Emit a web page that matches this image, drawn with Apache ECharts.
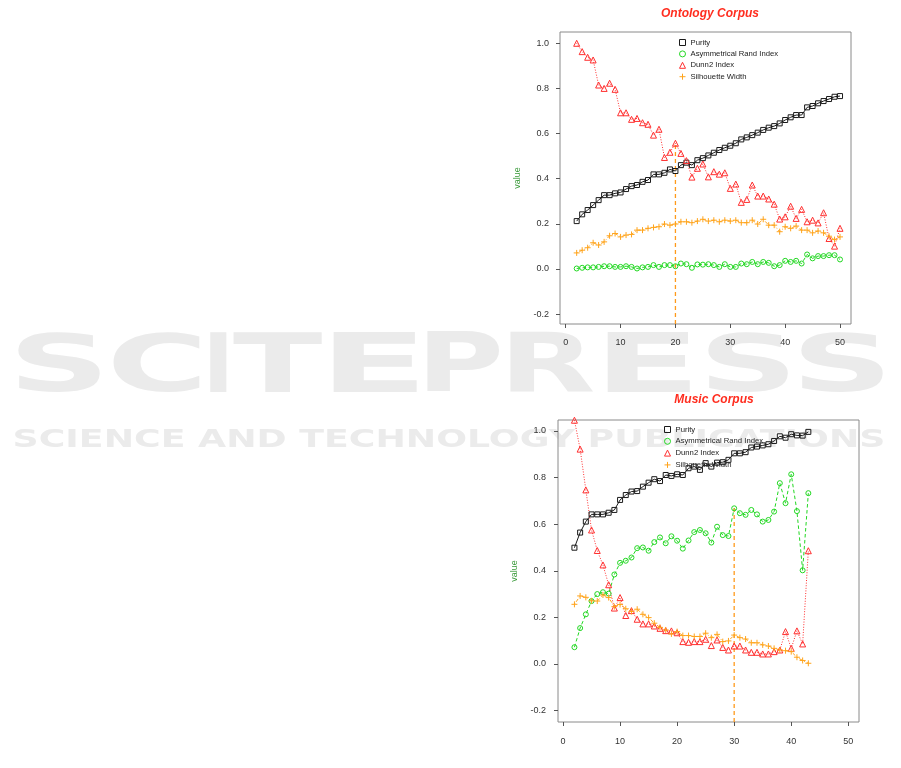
<!DOCTYPE html>
<html><head><meta charset="utf-8">
<script src="https://cdn.jsdelivr.net/npm/echarts@6/dist/echarts.min.js"></script>
<style>html,body{margin:0;padding:0;background:#fff}#c{width:901px;height:768px}</style>
</head><body><div id="c"></div>
<script>
// ---------------- data ----------------
const seriesNames = ['Purity', 'Asymmetrical Rand Index', 'Dunn2 Index', 'Silhouette Width'];
const chartTitles = ['Ontology Corpus', 'Music Corpus'];
const yAxisName = 'value';
const xTickValues = [0, 10, 20, 30, 40, 50];
const yTickValues = [-0.2, 0.0, 0.2, 0.4, 0.6, 0.8, 1.0];

const ontologyK = [2,3,4,5,6,7,8,9,10,11,12,13,14,15,16,17,18,19,20,21,22,23,24,25,26,27,28,29,30,31,32,33,34,35,36,37,38,39,40,41,42,43,44,45,46,47,48,49,50];
const ontologyPurity = [0.212,0.242,0.261,0.283,0.305,0.327,0.327,0.335,0.339,0.354,0.367,0.372,0.386,0.394,0.419,0.419,0.426,0.441,0.434,0.460,0.471,0.460,0.482,0.491,0.503,0.515,0.527,0.537,0.546,0.557,0.574,0.583,0.593,0.604,0.616,0.626,0.633,0.645,0.660,0.672,0.682,0.682,0.716,0.722,0.734,0.744,0.753,0.763,0.766];
const ontologyARI = [0.002,0.005,0.007,0.007,0.009,0.012,0.012,0.009,0.009,0.012,0.009,0.002,0.007,0.009,0.017,0.009,0.017,0.017,0.012,0.024,0.021,0.005,0.020,0.019,0.021,0.017,0.009,0.021,0.009,0.009,0.024,0.021,0.031,0.021,0.031,0.027,0.012,0.017,0.036,0.031,0.036,0.024,0.064,0.047,0.057,0.057,0.061,0.061,0.042];
const ontologyDunn2 = [1.0,0.963,0.938,0.926,0.815,0.80,0.823,0.796,0.692,0.692,0.663,0.667,0.648,0.641,0.593,0.619,0.494,0.517,0.557,0.512,0.480,0.407,0.446,0.465,0.408,0.431,0.420,0.426,0.357,0.376,0.295,0.308,0.372,0.323,0.323,0.31,0.287,0.221,0.231,0.278,0.224,0.264,0.209,0.216,0.204,0.249,0.135,0.101,0.180];
const ontologySilhouette = [0.071,0.083,0.094,0.116,0.106,0.120,0.147,0.157,0.142,0.150,0.153,0.172,0.172,0.180,0.184,0.187,0.199,0.194,0.199,0.209,0.209,0.205,0.212,0.220,0.212,0.216,0.209,0.216,0.212,0.216,0.205,0.205,0.216,0.199,0.220,0.194,0.194,0.165,0.187,0.180,0.190,0.172,0.172,0.160,0.168,0.160,0.145,0.130,0.142];
const ontologyMarkK = 20;
const ontologyMarkTop = 0.549;

const musicK = [2,3,4,5,6,7,8,9,10,11,12,13,14,15,16,17,18,19,20,21,22,23,24,25,26,27,28,29,30,31,32,33,34,35,36,37,38,39,40,41,42,43];
const musicPurity = [0.499,0.564,0.611,0.642,0.642,0.642,0.649,0.661,0.704,0.725,0.740,0.742,0.761,0.778,0.793,0.785,0.811,0.807,0.814,0.811,0.840,0.847,0.833,0.862,0.847,0.864,0.866,0.876,0.904,0.904,0.909,0.929,0.933,0.938,0.943,0.957,0.977,0.971,0.986,0.981,0.980,0.996];
const musicARI = [0.072,0.154,0.213,0.270,0.300,0.308,0.302,0.384,0.434,0.443,0.457,0.497,0.500,0.486,0.523,0.543,0.518,0.548,0.529,0.495,0.530,0.566,0.575,0.561,0.521,0.589,0.553,0.549,0.668,0.647,0.640,0.661,0.642,0.611,0.618,0.654,0.776,0.690,0.814,0.656,0.402,0.733];
const musicDunn2 = [1.046,0.922,0.747,0.575,0.487,0.425,0.340,0.240,0.285,0.208,0.229,0.192,0.172,0.172,0.163,0.153,0.143,0.142,0.134,0.096,0.093,0.096,0.096,0.106,0.079,0.103,0.071,0.060,0.077,0.077,0.060,0.050,0.050,0.043,0.043,0.053,0.060,0.139,0.067,0.142,0.086,0.486];
const musicSilhouette = [0.256,0.292,0.286,0.271,0.270,0.296,0.285,0.246,0.255,0.237,0.225,0.235,0.213,0.199,0.175,0.157,0.146,0.129,0.139,0.122,0.122,0.118,0.118,0.132,0.113,0.127,0.096,0.099,0.124,0.113,0.107,0.091,0.091,0.082,0.077,0.067,0.060,0.057,0.053,0.029,0.015,0.003];
const musicMarkK = 30;
const musicMarkTop = 0.668;

const watermarkBig = 'SCITEPRESS';
const watermarkSmall = 'SCIENCE AND TECHNOLOGY PUBLICATIONS';

// ---------------- styles / layout ----------------
const FAMILY = 'Liberation Sans';
const WM_FAMILY = 'DejaVu Sans';
const WM_COLOR = '#ebebeb';
const colors = ['#1a1a1a', '#22d822', '#ff2f2f', '#ffa41c'];
const symbols = ['rect', 'circle', 'triangle', 'path://M5,0L5,10M0,5L10,5'];
const symbolSizes = [5, 5, 6, 6];
const dashes = ['solid', [3.5, 2.5], [1, 1.6], [1, 2, 3.5, 2]];

// ink boxes (px) of the watermark letters
const wmLetterBoxes = [[17,100],[112,200],[210,227],[233,323],[333,417],[427,500],[510,593],[607,690],[707,788],[800,883]];
const wmBigTop = 332, wmBigBottom = 392;
const wmSmallBox = [14, 883, 428, 447];

const panels = [
  { grid: { left: 560, top: 32, width: 291, height: 292 }, xMin: -1.04, xMax: 52.0, yMin: -0.244, yMax: 1.05,
    k: ontologyK, vals: [ontologyPurity, ontologyARI, ontologyDunn2, ontologySilhouette],
    markK: ontologyMarkK, markTop: ontologyMarkTop, titleX: 705, titleY: 3,
    legend: { left: 677, top: 37, gap: 0.4 }, labelMargin: 14, yLabelMargin: 11, nameGap: 38 },
  { grid: { left: 558, top: 420, width: 301, height: 302 }, xMin: -0.88, xMax: 51.88, yMin: -0.249, yMax: 1.047,
    k: musicK, vals: [musicPurity, musicARI, musicDunn2, musicSilhouette],
    markK: musicMarkK, markTop: musicMarkTop, titleX: 709, titleY: 389,
    legend: { left: 662, top: 424, gap: 0.8 }, labelMargin: 15, yLabelMargin: 12, nameGap: 39 }
];

const mctx = document.createElement('canvas').getContext('2d');
function ink(text, size) {
  mctx.font = 'bold ' + size + 'px "' + WM_FAMILY + '"';
  mctx.textBaseline = 'middle';
  mctx.textAlign = 'left';
  const m = mctx.measureText(text);
  return { l: m.actualBoundingBoxLeft, r: m.actualBoundingBoxRight, a: m.actualBoundingBoxAscent, d: m.actualBoundingBoxDescent };
}
function wmText(text, size, x0, x1, y0, y1) {
  const m = ink(text, size);
  const sx = (x1 - x0) / (m.l + m.r);
  const sy = (y1 - y0) / (m.a + m.d);
  return {
    type: 'text', z: -10, silent: true,
    x: x0 + m.l * sx, y: y0 + m.a * sy, scaleX: sx, scaleY: sy,
    style: { text: text, fontFamily: WM_FAMILY, fontSize: size, fontWeight: 'bold', fill: WM_COLOR,
             align: 'left', verticalAlign: 'middle' }
  };
}

const option = {
  animation: false,
  backgroundColor: '#ffffff',
  textStyle: { fontFamily: FAMILY },
  title: [], grid: [], xAxis: [], yAxis: [], legend: [], series: [],
  graphic: []
};

// faint publisher watermark behind the charts
watermarkBig.split('').forEach((ch, i) => {
  const b = wmLetterBoxes[i];
  option.graphic.push(wmText(ch, 80, b[0], b[1], wmBigTop, wmBigBottom));
});
option.graphic.push(wmText(watermarkSmall, 26, wmSmallBox[0], wmSmallBox[1], wmSmallBox[2], wmSmallBox[3]));

panels.forEach((p, gi) => {
  option.title.push({
    text: chartTitles[gi], left: p.titleX, top: p.titleY, textAlign: 'center',
    textStyle: { fontFamily: FAMILY, fontSize: 12, fontWeight: 'bold', fontStyle: 'italic', color: '#ff2d1f' }
  });
  option.grid.push(Object.assign({ show: true, borderColor: '#8a8a8a', borderWidth: 1, backgroundColor: 'transparent' }, p.grid));
  option.xAxis.push({
    type: 'value', gridIndex: gi, min: p.xMin, max: p.xMax, position: 'bottom',
    axisLine: { show: false, onZero: false }, splitLine: { show: false },
    axisTick: { show: true, customValues: xTickValues, length: 4, lineStyle: { color: '#555' } },
    axisLabel: { customValues: xTickValues, fontSize: 9, color: '#333', margin: p.labelMargin, fontFamily: FAMILY }
  });
  option.yAxis.push({
    type: 'value', gridIndex: gi, min: p.yMin, max: p.yMax, position: 'left',
    name: yAxisName, nameLocation: 'middle', nameGap: p.nameGap,
    nameTextStyle: { color: '#3a9a3a', fontSize: 9, fontFamily: FAMILY },
    axisLine: { show: false, onZero: false }, splitLine: { show: false },
    axisTick: { show: true, customValues: yTickValues, length: 4, lineStyle: { color: '#555' } },
    axisLabel: { customValues: yTickValues, fontSize: 9, color: '#333', margin: p.yLabelMargin, fontFamily: FAMILY,
      formatter: v => v.toFixed(1) }
  });
  option.legend.push({
    orient: 'vertical', left: p.legend.left, top: p.legend.top, itemWidth: 6, itemHeight: 6,
    itemGap: p.legend.gap, selectedMode: false, padding: 0,
    textStyle: { fontSize: 7.7, color: '#222', lineHeight: 7, fontFamily: FAMILY },
    data: seriesNames.map((n, i) => ({
      name: n, icon: symbols[i],
      itemStyle: { color: 'none', borderColor: colors[i], borderWidth: 1 }
    }))
  });
  seriesNames.forEach((n, i) => {
    option.series.push({
      type: 'line', name: n, xAxisIndex: gi, yAxisIndex: gi,
      data: p.k.map((k, j) => [k, p.vals[i][j]]),
      symbol: symbols[i], symbolSize: symbolSizes[i], showSymbol: true,
      lineStyle: { color: colors[i], width: 1, type: dashes[i] },
      itemStyle: { color: 'none', borderColor: colors[i], borderWidth: 1 },
      emphasis: { disabled: true }
    });
  });
  option.series.push({
    type: 'line', name: 'mark', xAxisIndex: gi, yAxisIndex: gi,
    data: [[p.markK, p.yMin], [p.markK, p.markTop]],
    symbol: 'none', lineStyle: { color: '#ff9a1a', width: 1.3, type: [4, 3] },
    emphasis: { disabled: true }
  });
});

const chart = echarts.init(document.getElementById('c'), null, { renderer: 'canvas' });
chart.setOption(option);
</script>
</body></html>
